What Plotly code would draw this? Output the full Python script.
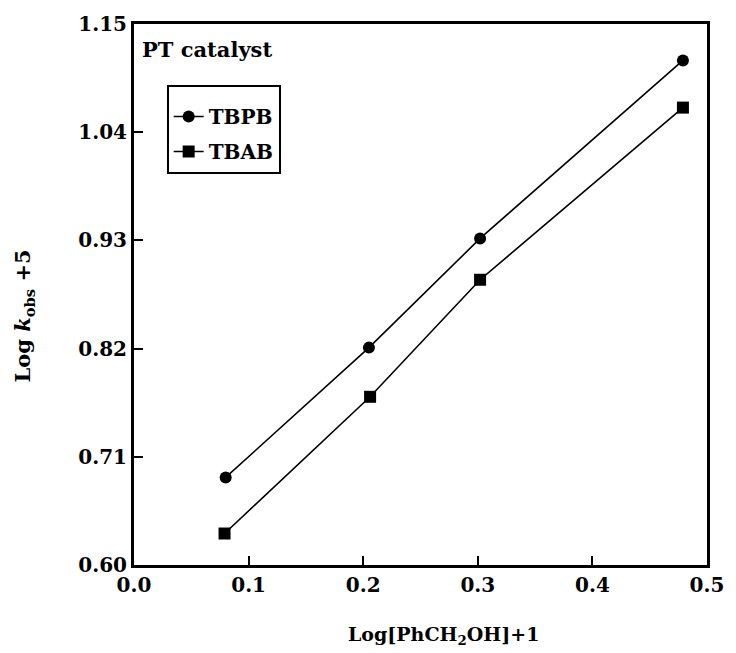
import plotly.graph_objects as go

x_tbpb = [0.080, 0.205, 0.302, 0.479]
y_tbpb = [0.689, 0.821, 0.932, 1.113]
x_tbab = [0.079, 0.206, 0.302, 0.479]
y_tbab = [0.632, 0.771, 0.890, 1.065]

x_ticks = [0.0, 0.1, 0.2, 0.3, 0.4, 0.5]
x_ticklabels = ["0.0", "0.1", "0.2", "0.3", "0.4", "0.5"]
y_ticks = [0.60, 0.71, 0.82, 0.93, 1.04, 1.15]
y_ticklabels = ["0.60", "0.71", "0.82", "0.93", "1.04", "1.15"]

FONT = "DejaVu Serif"

fig = go.Figure()
fig.add_trace(go.Scatter(x=x_tbpb, y=y_tbpb, mode="lines+markers", name="TBPB",
                         legendgroup="a",
                         line=dict(color="black", width=1.6),
                         marker=dict(symbol="circle", size=12, color="black")))
fig.add_trace(go.Scatter(x=x_tbab, y=y_tbab, mode="lines+markers", name="TBAB",
                         legendgroup="b",
                         line=dict(color="black", width=1.6),
                         marker=dict(symbol="square", size=12, color="black")))

axis_common = dict(showgrid=False, zeroline=False, showline=True, linecolor="black",
                   linewidth=3, mirror=True, ticks="inside", ticklen=9, tickwidth=2,
                   tickcolor="black",
                   tickfont=dict(family=FONT, size=20, color="black", weight="bold"))

fig.update_xaxes(range=[0, 0.5], tickvals=x_ticks, ticktext=x_ticklabels, **axis_common)
fig.update_yaxes(range=[0.60, 1.15], tickvals=y_ticks, ticktext=y_ticklabels, **axis_common)

fig.add_annotation(text="<b>Log[PhCH<sub>2</sub>OH]+1</b>", xref="paper", yref="paper",
                   x=0.54, y=-0.13, xanchor="center", yanchor="middle", showarrow=False,
                   font=dict(family=FONT, size=19, color="black"))
fig.add_annotation(text="<b>Log <i>k</i><sub>obs</sub> +5</b>", xref="paper", yref="paper",
                   x=-0.193, y=0.46, xanchor="center", yanchor="middle", showarrow=False,
                   textangle=-90,
                   font=dict(family=FONT, size=21, color="black"))
fig.add_annotation(text="<b>PT catalyst</b>", xref="paper", yref="paper",
                   x=0.01, y=0.952, xanchor="left", yanchor="middle", showarrow=False,
                   font=dict(family=FONT, size=21, color="black"))

fig.update_layout(
    width=736, height=653,
    margin=dict(l=134, r=23, t=22, b=88),
    paper_bgcolor="white", plot_bgcolor="white",
    showlegend=True,
    legend=dict(x=0.057, y=0.888, xanchor="left", yanchor="top",
                bordercolor="black", borderwidth=2, bgcolor="white",
                font=dict(family=FONT, size=20, color="black", weight="bold"),
                title=dict(text=" ", font=dict(size=8)),
                itemwidth=30, tracegroupgap=6, traceorder="grouped"),
)

fig.write_html("out.html")
